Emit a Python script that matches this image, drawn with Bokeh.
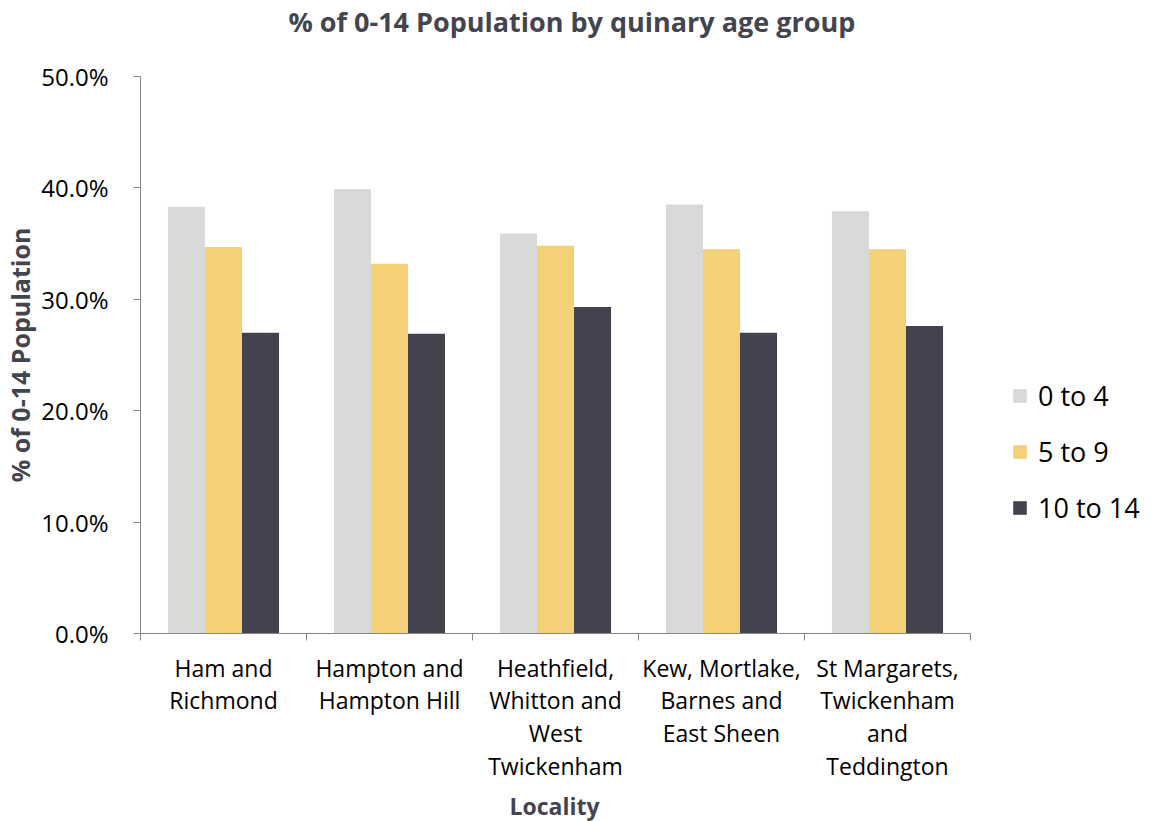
import numpy as np
from bokeh.plotting import figure
from bokeh.models import (Range1d, FixedTicker, NumeralTickFormatter, Legend, LegendItem,
                          ColumnDataSource, Title)
from bokeh.embed import file_html
from bokeh.resources import INLINE

localities = ["Ham and\nRichmond", "Hampton and\nHampton Hill",
              "Heathfield,\nWhitton and\nWest\nTwickenham",
              "Kew, Mortlake,\nBarnes and\nEast Sheen",
              "St Margarets,\nTwickenham\nand\nTeddington"]
series = ["0 to 4", "5 to 9", "10 to 14"]
age_0_4 = [0.383, 0.399, 0.359, 0.385, 0.379]
age_5_9 = [0.347, 0.332, 0.348, 0.345, 0.345]
age_10_14 = [0.270, 0.269, 0.293, 0.270, 0.276]
colors = ["#D9D9D9", "#F4D078", "#43424E"]
y_ticks = [0.0, 0.1, 0.2, 0.3, 0.4, 0.5]

FONT = "Open Sans"
n = len(localities)
FW = 1154 - 140
CAT_W = 830
x_end = n * FW / CAT_W
p = figure(frame_width=FW, frame_height=557, output_backend="svg", toolbar_location=None,
           x_range=Range1d(0, x_end), y_range=Range1d(0, 0.5), title=None,
           min_border_left=140, min_border_right=0, min_border_top=76, min_border_bottom=188)
p.outline_line_color = None
p.xgrid.grid_line_color = None
p.ygrid.grid_line_color = None

bar_w = 0.223
centers = np.arange(n) + 0.5
renderers = []
for k, (vals, col) in enumerate(zip([age_0_4, age_5_9, age_10_14], colors)):
    src = ColumnDataSource(dict(x=centers + (k - 1) * bar_w, top=vals))
    r = p.vbar(x="x", top="top", width=bar_w, source=src, fill_color=col, line_color=None)
    renderers.append(r)

# y axis
ya = p.yaxis[0]
ya.ticker = FixedTicker(ticks=y_ticks)
ya.formatter = NumeralTickFormatter(format="0.0%")
ya.axis_line_color = "#868686"
ya.major_tick_line_color = "#868686"
ya.major_tick_out = 7
ya.major_tick_in = 0
ya.minor_tick_line_color = None
ya.major_label_text_font = FONT
ya.major_label_text_font_size = "24px"
ya.major_label_text_color = "#000000"
ya.major_label_standoff = 25
ya.axis_label = "% of 0-14 Population"
ya.axis_label_text_font = FONT
ya.axis_label_text_font_style = "bold"
ya.axis_label_text_font_size = "25px"
ya.axis_label_text_color = "#44444F"
ya.axis_label_standoff = 1

# x axis
xa = p.xaxis[0]
xa.bounds = (0, n)
xa.ticker = FixedTicker(ticks=list(centers), minor_ticks=list(range(n + 1)))
xa.major_label_overrides = {float(c): lab for c, lab in zip(centers, localities)}
xa.axis_line_color = "#868686"
xa.major_tick_line_color = None
xa.minor_tick_line_color = "#868686"
xa.minor_tick_out = 7
xa.minor_tick_in = 0
xa.major_label_text_font = FONT
xa.major_label_text_font_size = "23px"
xa.major_label_text_color = "#000000"
xa.major_label_text_line_height = 1.03
xa.major_label_standoff = 11

# spacer between frame and title, then the title itself
p.add_layout(Title(text=" ", text_font_size="1px", standoff=34), "above")
p.add_layout(Title(text="% of 0-14 Population by quinary age group", align="left",
                   vertical_align="bottom",
                   text_font=FONT, text_font_style="bold", text_font_size="27px",
                   text_color="#44444F", offset=148, standoff=0), "above")

p.add_layout(Title(text="Locality", align="left", vertical_align="bottom",
                   text_font=FONT, text_font_style="bold", text_font_size="23px",
                   text_color="#44444F", offset=369, standoff=4), "below")

legend = Legend(items=[LegendItem(label=s, renderers=[r]) for s, r in zip(series, renderers)],
                location=(871, 107), orientation="vertical",
                label_text_font=FONT, label_text_font_size="27px", label_text_color="#000000",
                glyph_width=17, glyph_height=17, label_standoff=10, spacing=19,
                border_line_color=None, background_fill_alpha=0)
p.add_layout(legend, "center")

open("out.html", "w").write(file_html(p, INLINE))
